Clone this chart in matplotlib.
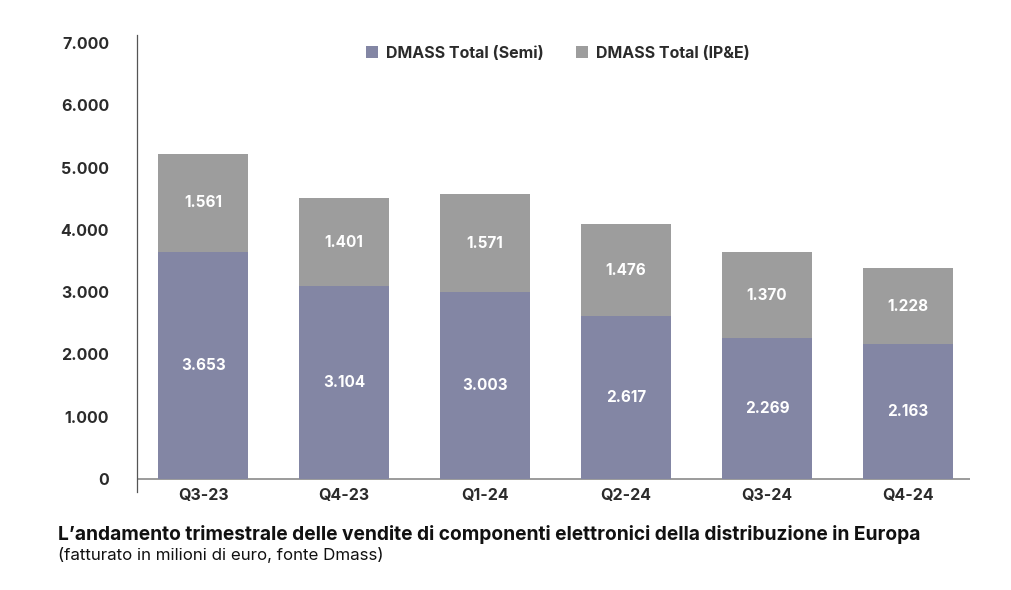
import matplotlib.pyplot as plt
import numpy as np

quarters = ["Q3-23", "Q4-23", "Q1-24", "Q2-24", "Q3-24", "Q4-24"]
semi = [3653, 3104, 3003, 2617, 2269, 2163]
ipe = [1561, 1401, 1571, 1476, 1370, 1228]

plt.rcParams["font.family"] = ["Inter", "DejaVu Sans"]

SEMI_COLOR = "#8386a4"
IPE_COLOR = "#9d9d9d"
TEXT_COLOR = "#2b2b2b"


def fmt(v):
    # Italian thousands separator
    return f"{v:,}".replace(",", ".")


fig = plt.figure(figsize=(10.12, 5.9), dpi=100)
ax = fig.add_axes([0.1354, 0.166, 0.823, 0.7747])

x = np.arange(len(quarters))
width = 0.64
b1 = ax.bar(x, semi, width, color=SEMI_COLOR, label="DMASS Total (Semi)")
b2 = ax.bar(x, ipe, width, bottom=semi, color=IPE_COLOR, label="DMASS Total (IP&E)")

for bars, vals, base in ((b1, semi, [0] * len(semi)), (b2, ipe, semi)):
    for bar, v, b in zip(bars, vals, base):
        ax.text(bar.get_x() + bar.get_width() / 2, b + v / 2, fmt(v),
                ha="center", va="center", color="white",
                fontsize=11, fontweight="bold")

ax.set_xlim(-0.47, 5.44)
ax.set_ylim(-210, 7130)
ax.set_yticks(range(0, 7001, 1000))
ax.set_yticklabels([fmt(v) for v in range(0, 7001, 1000)])
ax.set_xticks(x)
ax.set_xticklabels(quarters)
ax.tick_params(axis="y", length=0, pad=20, labelsize=11.5, labelcolor=TEXT_COLOR)
ax.tick_params(axis="x", length=0, pad=-3, labelsize=11.5, labelcolor=TEXT_COLOR)
for lbl in ax.get_xticklabels() + ax.get_yticklabels():
    lbl.set_fontweight("bold")

for side in ("top", "right", "bottom"):
    ax.spines[side].set_visible(False)
ax.spines["left"].set_color("#555555")
ax.spines["left"].set_linewidth(0.9)
ax.axhline(0, color="#8a8a8a", linewidth=1.2, zorder=0)

leg = ax.legend(loc="upper center", bbox_to_anchor=(0.505, 1.008), ncol=2,
                frameon=False, fontsize=11.5, handlelength=0.75, handleheight=0.75,
                columnspacing=2.0, handletextpad=0.5)
for t in leg.get_texts():
    t.set_fontweight("bold")
    t.set_color(TEXT_COLOR)

fig.text(0.057, 0.094,
         "L\u2019andamento trimestrale delle vendite di componenti elettronici della distribuzione in Europa",
         fontsize=13.8, fontweight="bold", color="#111111", va="center")
fig.text(0.057, 0.059, "(fatturato in milioni di euro, fonte Dmass)",
         fontsize=12.2, color="#111111", va="center")

fig.savefig("out.png", dpi=100)
